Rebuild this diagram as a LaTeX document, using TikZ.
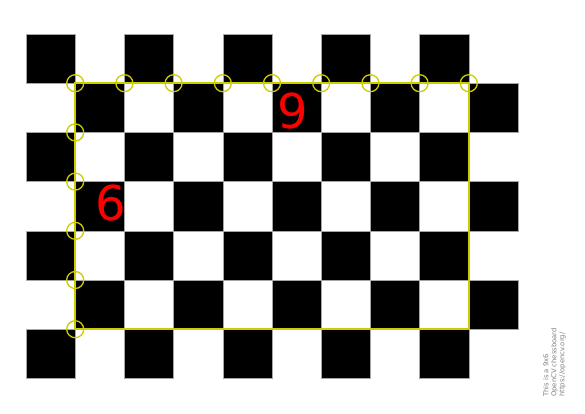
\documentclass[tikz,border=0pt]{standalone}
\usepackage{fontspec}
\setmainfont{DejaVu Sans}
\begin{document}
\begin{tikzpicture}[x=1pt,y=-1pt,
  sq/.style={fill=black,draw=gray!70,line width=0.5pt},
  ylw/.style={draw={rgb,255:red,204;green,204;blue,0},line width=2pt},
  ycirc/.style={draw={rgb,255:red,204;green,204;blue,0},line width=1.3pt},
  lbl/.style={text={rgb,255:red,255;green,0;blue,0},font=\fontsize{48}{50}\selectfont,inner sep=0pt},
  note/.style={text=gray,font=\fontsize{6.8}{8}\selectfont,align=left,inner sep=0pt}]
\useasboundingbox[fill=white] (0,0) rectangle (585,413);
\def\s{49.2}
\foreach \r in {0,...,6}{
  \foreach \c in {0,...,9}{
    \pgfmathtruncatemacro{\p}{mod(\r+\c,2)}
    \ifnum\p=0
      \fill[sq] ({26+\c*\s},{34+\r*\s}) rectangle ++(\s,\s);
    \fi
  }
}
\coordinate (tl) at ({26+\s},{34+\s});
\coordinate (br) at ({26+9*\s},{34+6*\s});
\draw[ylw] (tl) rectangle (br);
\foreach \c in {1,...,9}{
  \draw[ycirc] ({26+\c*\s},{34+\s}) circle (8.5);
}
\foreach \r in {2,...,6}{
  \draw[ycirc] ({26+\s},{34+\r*\s}) circle (8.5);
}
\node[lbl] (nine) at (293,111.5) {9};
\node[lbl] (six) at (111,203.5) {6};
\node[note,rotate=90,anchor=north west] (txt) at (543,397) {This is a 9x6\\OpenCV chessboard\\https://opencv.org/};
\end{tikzpicture}
\end{document}
